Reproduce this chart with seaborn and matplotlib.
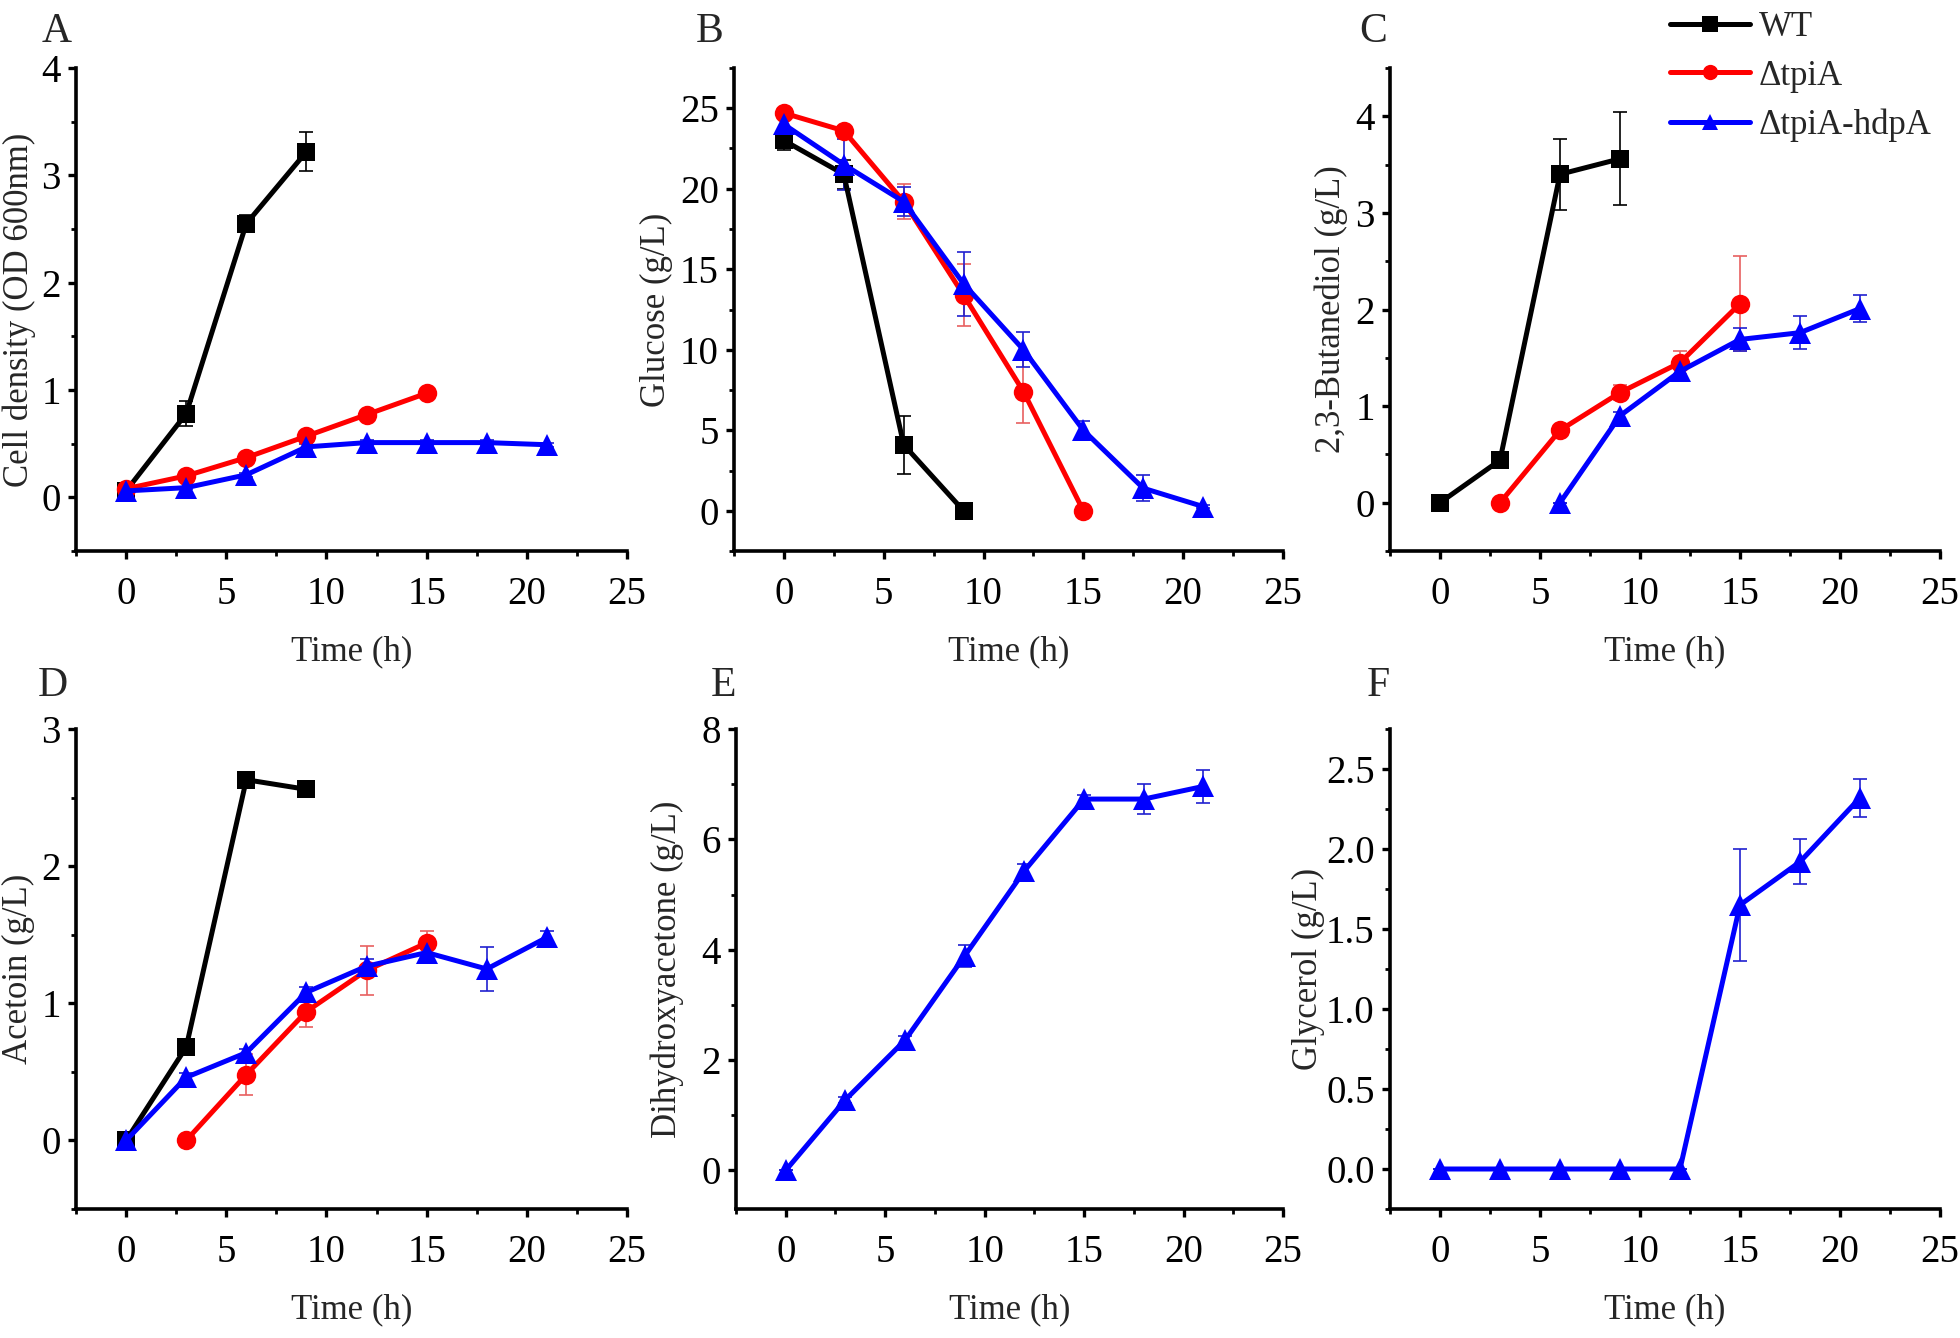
import numpy as np
import pandas as pd
import matplotlib
matplotlib.use("Agg")
import matplotlib.pyplot as plt
from matplotlib.ticker import MultipleLocator, FormatStrFormatter
from matplotlib.lines import Line2D
import seaborn as sns

# ---------------- data ----------------
strains = ["WT", "ΔtpiA", "ΔtpiA-hdpA"]
colors = {"WT": "#000000", "ΔtpiA": "#FF0000", "ΔtpiA-hdpA": "#0000FF"}
err_colors = {"WT": "#000000", "ΔtpiA": "#E86060", "ΔtpiA-hdpA": "#2020D0"}
markers = {"WT": "s", "ΔtpiA": "o", "ΔtpiA-hdpA": "^"}
msizes = {"WT": 13, "ΔtpiA": 14, "ΔtpiA-hdpA": 16}

t_wt = [0, 3, 6, 9]
t_tpi = [0, 3, 6, 9, 12, 15]
t_hdp = [0, 3, 6, 9, 12, 15, 18, 21]

# A: cell density
od_wt = [0.06, 0.78, 2.55, 3.22]
od_wt_err = [0.02, 0.12, 0.08, 0.18]
od_tpi = [0.08, 0.20, 0.37, 0.57, 0.77, 0.97]
od_tpi_err = [0.01, 0.02, 0.02, 0.03, 0.03, 0.03]
od_hdp = [0.06, 0.09, 0.21, 0.47, 0.51, 0.51, 0.51, 0.49]
od_hdp_err = [0.01, 0.01, 0.02, 0.03, 0.02, 0.02, 0.02, 0.02]

# B: glucose
glc_wt = [23.0, 20.9, 4.1, 0.0]
glc_wt_err = [0.6, 0.9, 1.8, 0.1]
glc_tpi = [24.7, 23.6, 19.2, 13.4, 7.4, 0.0]
glc_tpi_err = [0.3, 0.3, 1.1, 1.9, 1.95, 0.1]
glc_hdp = [24.0, 21.5, 19.2, 14.1, 10.0, 5.0, 1.4, 0.26]
glc_hdp_err = [0.4, 1.6, 0.9, 2.0, 1.1, 0.6, 0.8, 0.1]

# C: 2,3-butanediol
bdo_t_wt = [0, 3, 6, 9]
bdo_wt = [0.0, 0.44, 3.40, 3.56]
bdo_wt_err = [0.0, 0.03, 0.37, 0.48]
bdo_t_tpi = [3, 6, 9, 12, 15]
bdo_tpi = [0.0, 0.75, 1.14, 1.45, 2.06]
bdo_tpi_err = [0.0, 0.04, 0.08, 0.12, 0.49]
bdo_t_hdp = [6, 9, 12, 15, 18, 21]
bdo_hdp = [0.0, 0.90, 1.36, 1.69, 1.76, 2.01]
bdo_hdp_err = [0.0, 0.04, 0.06, 0.12, 0.17, 0.14]

# D: acetoin
act_t_wt = [0, 3, 6, 9]
act_wt = [0.0, 0.68, 2.63, 2.56]
act_wt_err = [0.0, 0.03, 0.03, 0.03]
act_t_tpi = [3, 6, 9, 12, 15]
act_tpi = [0.0, 0.48, 0.94, 1.24, 1.44]
act_tpi_err = [0.0, 0.15, 0.11, 0.18, 0.09]
act_t_hdp = [0, 3, 6, 9, 12, 15, 18, 21]
act_hdp = [0.0, 0.46, 0.64, 1.08, 1.27, 1.37, 1.25, 1.48]
act_hdp_err = [0.0, 0.03, 0.03, 0.04, 0.05, 0.05, 0.16, 0.05]

# E: dihydroxyacetone
dha_hdp = [0.0, 1.28, 2.36, 3.89, 5.43, 6.73, 6.73, 6.96]
dha_hdp_err = [0.0, 0.05, 0.08, 0.20, 0.12, 0.08, 0.27, 0.30]

# F: glycerol
gly_hdp = [0.0, 0.0, 0.0, 0.0, 0.0, 1.65, 1.92, 2.32]
gly_hdp_err = [0.0, 0.0, 0.0, 0.0, 0.0, 0.35, 0.14, 0.12]

# ---------------- style ----------------
sns.set_theme(style="ticks")
plt.rcParams["font.family"] = ["Liberation Serif", "DejaVu Serif"]
plt.rcParams["axes.linewidth"] = 2.6
plt.rcParams["xtick.major.width"] = 2.4
plt.rcParams["ytick.major.width"] = 2.4
plt.rcParams["xtick.minor.width"] = 2.0
plt.rcParams["ytick.minor.width"] = 2.0
plt.rcParams["xtick.major.size"] = 6
plt.rcParams["ytick.major.size"] = 6
plt.rcParams["xtick.minor.size"] = 3.5
plt.rcParams["ytick.minor.size"] = 3.5
plt.rcParams["xtick.color"] = "black"
plt.rcParams["ytick.color"] = "black"
plt.rcParams["axes.edgecolor"] = "black"

W, H = 1960, 1338
fig = plt.figure(figsize=(W / 100, H / 100), dpi=100)


def add_ax(left, right, top, bottom):
    return fig.add_axes([left / W, 1 - bottom / H, (right - left) / W, (bottom - top) / H])


def draw(ax, series, ylabel, ylim, ymajor, yminor, label_x, yfmt="%d"):
    for name, t, y, e in series:
        ax.errorbar(t, y, yerr=e, fmt="none", ecolor=err_colors[name],
                    elinewidth=1.2, capsize=5, capthick=1.2, zorder=1)
    for name, t, y, e in series:
        df = pd.DataFrame({"Time": t, "Value": y, "Strain": name})
        sns.lineplot(data=df, x="Time", y="Value", color=colors[name],
                     marker=markers[name], linewidth=3.6,
                     markersize=msizes[name], markeredgewidth=0,
                     errorbar=None, legend=False, ax=ax, zorder=3)
    ax.set_xlim(-2.5, 25)
    ax.set_ylim(*ylim)
    ax.xaxis.set_major_locator(MultipleLocator(5))
    ax.xaxis.set_minor_locator(MultipleLocator(2.5))
    ax.yaxis.set_major_locator(MultipleLocator(ymajor))
    ax.yaxis.set_minor_locator(MultipleLocator(yminor))
    ax.yaxis.set_major_formatter(FormatStrFormatter(yfmt))
    ax.tick_params(axis="both", which="both", direction="out", labelsize=28)
    ax.tick_params(axis="x", pad=12)
    ax.tick_params(axis="y", pad=5)
    ax.set_xlabel("Time (h)", fontsize=25, labelpad=16)
    ax.set_ylabel(ylabel, fontsize=25)
    ax.yaxis.set_label_coords(label_x, 0.5)
    sns.despine(ax=ax)
    ax.set_facecolor("white")


axA = add_ax(76, 627, 68, 551)
axB = add_ax(734, 1283, 68, 551)
axC = add_ax(1390, 1940, 68, 551)
axD = add_ax(76, 627, 729, 1209)
axE = add_ax(736, 1283, 729, 1209)
axF = add_ax(1390, 1940, 729, 1209)

draw(axA, [("WT", t_wt, od_wt, od_wt_err),
           ("ΔtpiA", t_tpi, od_tpi, od_tpi_err),
           ("ΔtpiA-hdpA", t_hdp, od_hdp, od_hdp_err)],
     "Cell density (OD 600nm)", (-0.5, 4), 1, 0.5, -0.072)
draw(axB, [("WT", t_wt, glc_wt, glc_wt_err),
           ("ΔtpiA", t_tpi, glc_tpi, glc_tpi_err),
           ("ΔtpiA-hdpA", t_hdp, glc_hdp, glc_hdp_err)],
     "Glucose (g/L)", (-2.5, 27.5), 5, 2.5, -0.111)
draw(axC, [("WT", bdo_t_wt, bdo_wt, bdo_wt_err),
           ("ΔtpiA", bdo_t_tpi, bdo_tpi, bdo_tpi_err),
           ("ΔtpiA-hdpA", bdo_t_hdp, bdo_hdp, bdo_hdp_err)],
     "2,3-Butanediol (g/L)", (-0.5, 4.5), 1, 0.5, -0.076)
draw(axD, [("WT", act_t_wt, act_wt, act_wt_err),
           ("ΔtpiA", act_t_tpi, act_tpi, act_tpi_err),
           ("ΔtpiA-hdpA", act_t_hdp, act_hdp, act_hdp_err)],
     "Acetoin (g/L)", (-0.5, 3), 1, 0.5, -0.075)
draw(axE, [("ΔtpiA-hdpA", t_hdp, dha_hdp, dha_hdp_err)],
     "Dihydroxyacetone (g/L)", (-0.7, 8), 2, 1, -0.095)
draw(axF, [("ΔtpiA-hdpA", t_hdp, gly_hdp, gly_hdp_err)],
     "Glycerol (g/L)", (-0.25, 2.75), 0.5, 0.25, -0.118, yfmt="%.1f")

# panel letters
for letter, x, y in [("A", 42, 42), ("B", 696, 42), ("C", 1359, 42),
                     ("D", 38, 696), ("E", 711, 696), ("F", 1367, 696)]:
    fig.text(x / W, 1 - y / H, letter, fontsize=30, ha="left", va="baseline")

# legend
handles = [Line2D([], [], color=colors[s], marker=markers[s], linewidth=3.6,
                  markersize=11, markeredgewidth=0) for s in strains]
fig.legend(handles, strains, loc="upper left",
           bbox_to_anchor=(1670 / W, 1 - 11 / H), frameon=False, fontsize=25,
           handlelength=2.3, handletextpad=0.25, labelspacing=0.45,
           borderpad=0, borderaxespad=0)

fig.savefig("out.png", dpi=100, facecolor="white")
